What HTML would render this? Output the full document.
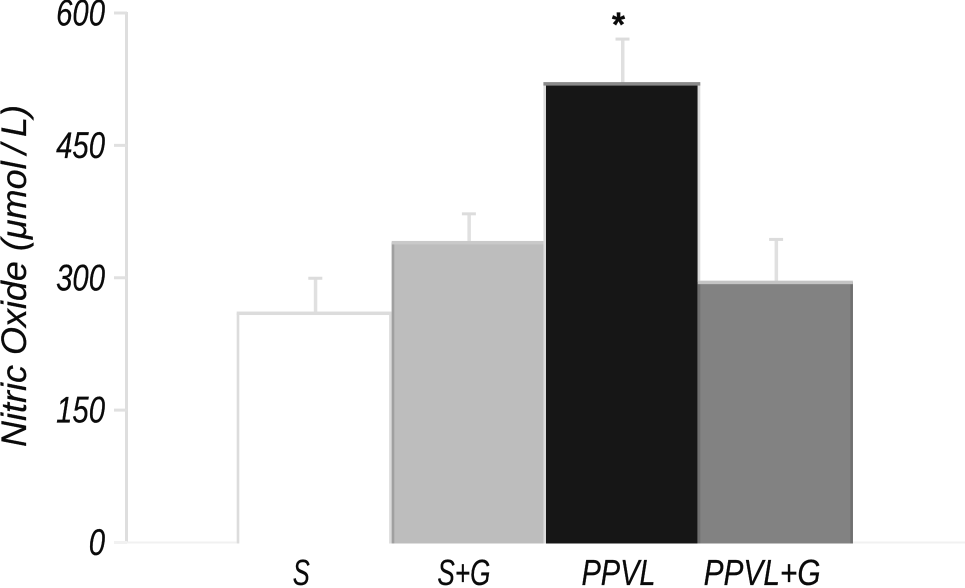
<!DOCTYPE html>
<html>
<head>
<meta charset="utf-8">
<style>
html,body{margin:0;padding:0;background:#fff;}
svg{display:block;}
text{font-family:"Liberation Sans",sans-serif;font-style:italic;fill:#0a0a0a;stroke:#0a0a0a;stroke-width:0.25px;}
</style>
</head>
<body>
<svg id="chart" width="965" height="588" viewBox="0 0 965 588" xmlns="http://www.w3.org/2000/svg">
<text transform="translate(26,447) rotate(-90)" font-size="35" textLength="342" lengthAdjust="spacingAndGlyphs">Nitric Oxide (μmol&#8201;/&#8201;L)</text>
</svg>
<script>
const categories = ['S', 'S+G', 'PPVL', 'PPVL+G'];
const means = [260, 340, 520, 295];
const errorTops = [300, 373, 571, 344];
const yTicks = [0, 150, 300, 450, 600];
const significance = ['', '', '*', ''];

const svg = document.getElementById('chart');
const NS = 'http://www.w3.org/2000/svg';
const Y0 = 542.5, YK = 0.8825, BAR_LEFT = 238.5, STEP = 153.6;
const y = v => Y0 - v * YK;
const x = i => BAR_LEFT + i * STEP;
const fills = ['#ffffff', '#bdbdbd', '#161616', '#828282'];
const topEdges = ['#dcdcdc', '#c9c9c9', '#8a8a8a', '#c4c4c4'];
const sideEdges = ['#dcdcdc', '#a0a0a0', '#dcdcdc', '#707070'];
const labelNudge = [-14, -5, -4, -14];
const labelWidths = [17, 53, 74, 117];
const bandShift = [-1.8, -0.4, 0.3, -1.6, 0];
const edgeOffset = [0, 0, -2.6, 0];
const edgeLeft = i => x(i) + bandShift[i];

function add(tag, attrs, text) {
  const el = document.createElementNS(NS, tag);
  for (const k in attrs) el.setAttribute(k, attrs[k]);
  if (text !== undefined) el.textContent = text;
  svg.appendChild(el);
  return el;
}

categories.forEach((c, i) => {
  const cx = x(i) + STEP / 2;
  const stem = add('rect', {x: cx - 1.5, y: y(errorTops[i]), width: 3.5, height: y(means[i]) - y(errorTops[i]), fill: '#e0e0e0'});
  
  
  const cap = add('rect', {x: cx - 7, y: y(errorTops[i]) - 1, width: 14, height: 3, fill: '#dcdcdc'});
  
  
});

const axisLine = add('rect', {x: 125, y: y(600) - 1, width: 3, height: Y0 - y(600) + 2, fill: '#dedede'});


const baseLine = add('rect', {x: 114, y: Y0 - 1, width: 851, height: 2, fill: '#f1f1f1'});



yTicks.forEach(t => {
  const tick = add('rect', {x: 114, y: y(t) - 1.5, width: 13, height: 3, fill: t === 0 ? '#f1f1f1' : '#e0e0e0'});
  
  
  const s = String(t);
  const label = add('text', {x: 105, y: y(t) + 12.5, 'text-anchor': 'end', 'font-size': 37, textLength: s.length * 16.3, lengthAdjust: 'spacingAndGlyphs'}, s);
  
  
});

categories.forEach((c, i) => {
  const bx = edgeLeft(i), w = edgeLeft(i + 1) - bx, top = y(means[i]);
  const bar = add('rect', {x: bx, y: top, width: w, height: Y0 + 1 - top, fill: fills[i]});
  
  
  const left = add('rect', {x: bx + edgeOffset[i], y: top, width: 2.6, height: Y0 + 1 - top, fill: sideEdges[i]});
  
  
  const right = add('rect', {x: bx + w - 2.6 - edgeOffset[i], y: top, width: 2.6, height: Y0 + 1 - top, fill: sideEdges[i]});
  
  
  const edge = add('rect', {x: bx + edgeOffset[i], y: top - 1.5, width: w - 2 * edgeOffset[i], height: 3.5, fill: topEdges[i]});
  
  
  const label = add('text', {x: x(i) + STEP / 2 + labelNudge[i], y: 585, 'text-anchor': 'middle', 'font-size': 36, textLength: labelWidths[i], lengthAdjust: 'spacingAndGlyphs'}, c);
  
  
  if (significance[i]) {
    const mark = add('text', {x: x(i) + STEP / 2 - 4, y: 36, 'text-anchor': 'middle', 'font-size': 34, style: 'font-style:normal;font-weight:bold'}, significance[i]);
    
    
  }
});
</script>
</body>
</html>
